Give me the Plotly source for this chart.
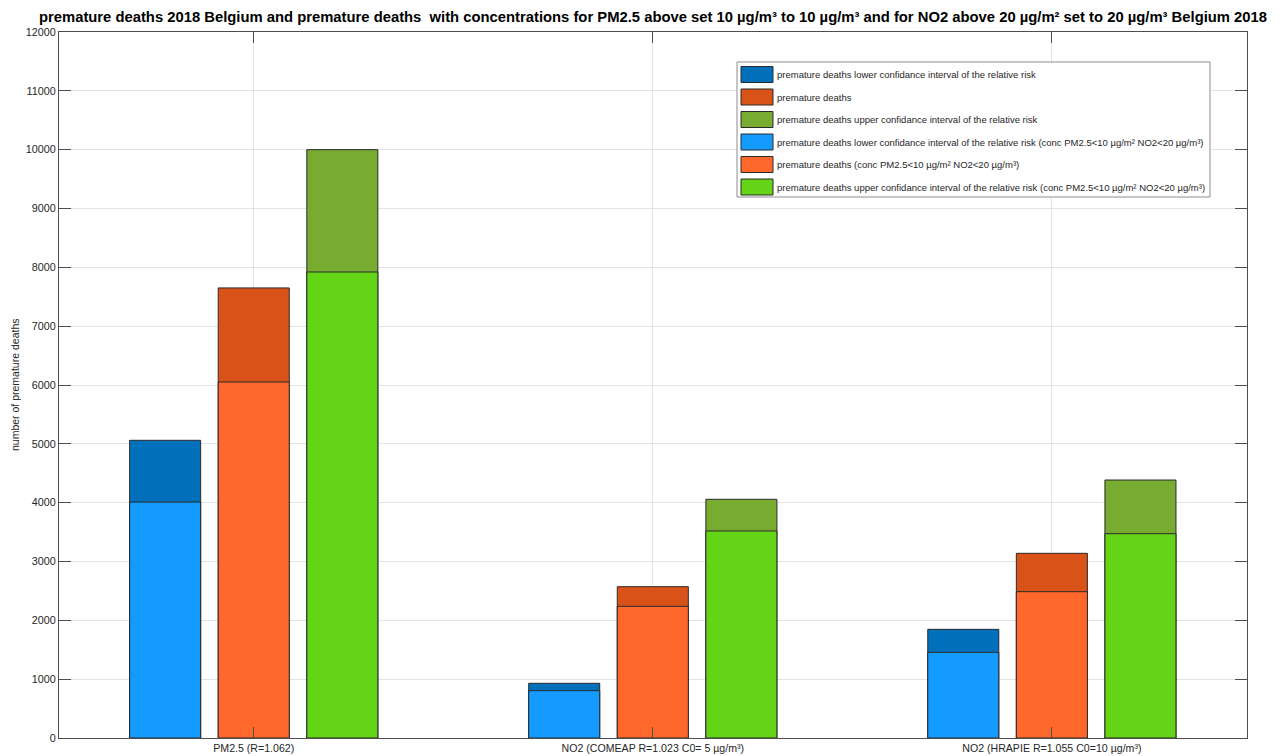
import plotly.graph_objects as go

# Categories (x) and their labels
categories = [0, 1, 2]
category_labels = [
    "PM2.5 (R=1.062)",
    "NO2 (COMEAP R=1.023 C0= 5 µg/m³)",
    "NO2 (HRAPIE R=1.055 C0=10 µg/m³)",
]

# Premature deaths with actual concentrations
deaths_lower = [5060, 930, 1847]
deaths_mid = [7650, 2572, 3139]
deaths_upper = [10000, 4057, 4385]

# Premature deaths with capped concentrations
deaths_lower_capped = [4010, 804, 1456]
deaths_mid_capped = [6051, 2238, 2487]
deaths_upper_capped = [7921, 3519, 3473]

series_names = [
    "premature deaths lower confidance interval of the relative risk",
    "premature deaths",
    "premature deaths upper confidance interval of the relative risk",
    "premature deaths lower confidance interval of the relative risk (conc PM2.5<10 µg/m² NO2<20 µg/m³)",
    "premature deaths (conc PM2.5<10 µg/m² NO2<20 µg/m³)",
    "premature deaths upper confidance interval of the relative risk (conc PM2.5<10 µg/m² NO2<20 µg/m³)",
]
series_values = [
    deaths_lower, deaths_mid, deaths_upper,
    deaths_lower_capped, deaths_mid_capped, deaths_upper_capped,
]
series_colors = ["#0170BB", "#D95319", "#77AC30", "#149BFF", "#FF682A", "#64D417"]

yticks = list(range(0, 12001, 1000))
ytick_labels = [str(v) for v in yticks]

# Layout geometry (pixels)
W, H = 1285, 756
PL, PR, PT, PB = 59, 1247, 32, 738
FONT = "Liberation Sans, Arial, sans-serif"
TXT = "#262626"

bar_width = 0.178
bar_offsets = [-0.311, -0.089, 0.133]

fig = go.Figure()
for i, (name, vals, col) in enumerate(zip(series_names, series_values, series_colors)):
    fig.add_trace(go.Bar(
        x=categories, y=vals, name=name,
        offset=bar_offsets[i % 3], width=bar_width,
        marker=dict(color=col, line=dict(color="#2a2a2a", width=1)),
        showlegend=False,
    ))


def px_x(p):
    return (p - PL) / (PR - PL)


def px_y(p):
    return (PB - p) / (PB - PT)


# Legend box with swatches
shapes = [dict(type="rect", xref="paper", yref="paper",
               x0=px_x(737), x1=px_x(1210), y0=px_y(197), y1=px_y(62),
               line=dict(color="#8c8c8c", width=1), fillcolor="white", layer="above")]
annotations = []
row0, row_step = 74.5, 22.5
for i, (name, col) in enumerate(zip(series_names, series_colors)):
    cy = row0 + i * row_step
    shapes.append(dict(type="rect", xref="paper", yref="paper",
                       x0=px_x(741), x1=px_x(773), y0=px_y(cy + 8), y1=px_y(cy - 8),
                       line=dict(color="#2a2a2a", width=1), fillcolor=col, layer="above"))
    annotations.append(dict(xref="paper", yref="paper", x=px_x(775), y=px_y(cy),
                            text=name, showarrow=False, xanchor="left", yanchor="middle",
                            font=dict(family=FONT, size=9.5, color=TXT)))

# Y axis title
annotations.append(dict(xref="paper", yref="paper", x=px_x(15), y=px_y(385),
                        text="number of premature deaths", textangle=-90, showarrow=False,
                        xanchor="center", yanchor="middle",
                        font=dict(family=FONT, size=10.5, color=TXT)))

fig.update_layout(
    width=W, height=H,
    margin=dict(l=PL, r=W - PR, t=PT, b=H - PB),
    paper_bgcolor="white", plot_bgcolor="white",
    barmode="overlay",
    font=dict(family=FONT, size=10, color=TXT),
    title=dict(
        text="premature deaths 2018 Belgium and premature deaths  with concentrations for PM2.5 above set 10 µg/m³ to 10 µg/m³ and for NO2 above 20 µg/m² set to 20 µg/m³ Belgium 2018",
        x=0.5, xref="paper", xanchor="center", y=1 - 17 / H, yanchor="middle",
        font=dict(family=FONT, size=14.8, color="black", weight="bold"),
    ),
    xaxis=dict(
        range=[-0.488, 2.489], tickvals=categories, ticktext=category_labels,
        showgrid=True, gridcolor="#e3e3e3", zeroline=False, automargin=False,
        showline=True, linecolor="#4d4d4d", linewidth=1, mirror="ticks",
        ticks="inside", ticklen=11, tickcolor="#4d4d4d",
        tickfont=dict(size=10.6, color=TXT),
    ),
    yaxis=dict(
        range=[0, 12000], tickvals=yticks, ticktext=ytick_labels,
        showgrid=True, gridcolor="#e3e3e3", zeroline=False, automargin=False,
        showline=True, linecolor="#4d4d4d", linewidth=1, mirror="ticks",
        ticks="inside", ticklen=12, tickcolor="#4d4d4d",
        tickfont=dict(size=10.8, color=TXT),
    ),
    shapes=shapes,
    annotations=annotations,
)

fig.write_html("out.html")
